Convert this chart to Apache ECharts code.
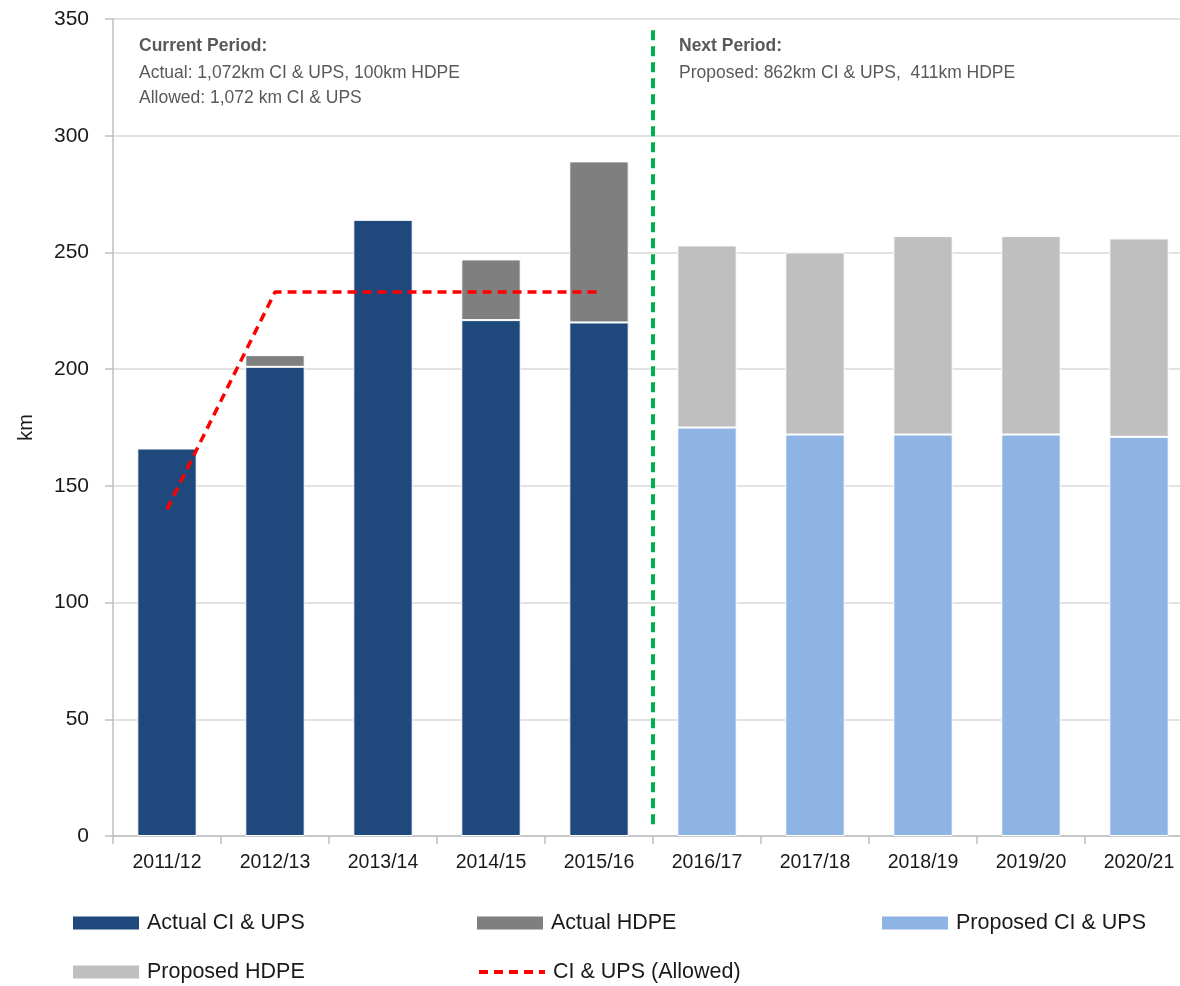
<!DOCTYPE html>
<html><head><meta charset="utf-8">
<script src="https://cdn.jsdelivr.net/npm/echarts@6/dist/echarts.min.js"></script>
<style>html,body{margin:0;padding:0;background:#fff;overflow:hidden}#c{width:1193px;height:986px}</style>
</head><body><div id="c"></div>
<script>
const categories = ['2011/12','2012/13','2013/14','2014/15','2015/16','2016/17','2017/18','2018/19','2019/20','2020/21'];
const actualCI   = [166, 201, 264, 221, 220, '-', '-', '-', '-', '-'];
const actualHDPE = [0, 5, 0, 26, 69, '-', '-', '-', '-', '-'];
const proposedCI   = ['-', '-', '-', '-', '-', 175, 172, 172, 172, 171];
const proposedHDPE = ['-', '-', '-', '-', '-', 78, 78, 85, 85, 85];
const allowedCI = [140, 233, 233, 233, 233, '-', '-', '-', '-', '-'];
const dividerX = 5;
const dividerY = [5, 346];
const yTicks = {min: 0, max: 350, interval: 50};
const noteCurrent = ['Current Period:', 'Actual: 1,072km CI & UPS, 100km HDPE', 'Allowed: 1,072 km CI & UPS'];
const noteNext = ['Next Period:', 'Proposed: 862km CI & UPS,  411km HDPE'];

const FONT = "'Liberation Sans Narrow', 'Liberation Sans', Arial, sans-serif";
const chart = echarts.init(document.getElementById('c'));
const legendText = {fontFamily: FONT, fontSize: 21.5, color: '#1a1a1a', padding: [0, 0, 0, 3]};
const barBorder = {borderColor: '#ffffff', borderWidth: 1};

function lg(name, left, top, extra) {
  return Object.assign({left: left, top: top, padding: 0, itemWidth: 66, itemHeight: 13, itemGap: 0,
    icon: 'rect', textStyle: legendText, itemStyle: {borderWidth: 0}, data: [name]}, extra || {});
}

chart.setOption({
  animation: false,
  textStyle: {fontFamily: FONT},
  grid: {left: 113, right: 0, top: 19, bottom: 150, containLabel: false, outerBoundsMode: 'none'},
  xAxis: [{
    type: 'category', data: categories,
    axisLine: {lineStyle: {color: '#bfbfbf', width: 1.5}},
    axisTick: {show: true, length: 8, lineStyle: {color: '#bfbfbf', width: 1.5}},
    axisLabel: {fontFamily: FONT, fontSize: 19.5, color: '#1a1a1a', margin: 17}
  }, {
    type: 'value', min: 0, max: 10, show: false
  }],
  yAxis: {
    type: 'value', min: yTicks.min, max: yTicks.max, interval: yTicks.interval,
    name: 'km', nameLocation: 'middle', nameGap: 77, nameRotate: 90,
    nameTextStyle: {fontFamily: FONT, fontSize: 20, color: '#1a1a1a'},
    axisLine: {show: true, lineStyle: {color: '#bfbfbf', width: 1.5}},
    axisTick: {show: true, length: 8, lineStyle: {color: '#bfbfbf', width: 1.5}},
    axisLabel: {fontFamily: FONT, fontSize: 21, color: '#1a1a1a', margin: 24},
    splitLine: {lineStyle: {color: '#d9d9d9', width: 1.5}}
  },
  legend: [
    lg('Actual CI & UPS', 73, 912),
    lg('Actual HDPE', 477, 912),
    lg('Proposed CI & UPS', 882, 912),
    lg('Proposed HDPE', 73, 961),
    lg('CI & UPS (Allowed)', 477, 961, {icon: undefined, itemStyle: {opacity: 0}, lineStyle: {width: 4}})
  ],
  graphic: [
    {type: 'text', left: 139, top: 37, style: {text: noteCurrent[0], fontFamily: FONT, fontSize: 17.5, fontWeight: 'bold', fill: '#595959'}},
    {type: 'text', left: 139, top: 61, style: {text: noteCurrent[1] + '\n' + noteCurrent[2], fontFamily: FONT, fontSize: 17.5, lineHeight: 25, fill: '#595959'}},
    {type: 'text', left: 679, top: 37, style: {text: noteNext[0], fontFamily: FONT, fontSize: 17.5, fontWeight: 'bold', fill: '#595959'}},
    {type: 'text', left: 679, top: 61, style: {text: noteNext[1], fontFamily: FONT, fontSize: 17.5, lineHeight: 25, fill: '#595959'}}
  ],
  series: [
    {name: 'Actual CI & UPS', type: 'bar', stack: 's', barWidth: '55%', data: actualCI,
     itemStyle: Object.assign({color: '#1f487c'}, barBorder)},
    {name: 'Actual HDPE', type: 'bar', stack: 's', data: actualHDPE,
     itemStyle: Object.assign({color: '#7f7f7f'}, barBorder)},
    {name: 'Proposed CI & UPS', type: 'bar', stack: 's', data: proposedCI,
     itemStyle: Object.assign({color: '#8eb4e3'}, barBorder)},
    {name: 'Proposed HDPE', type: 'bar', stack: 's', data: proposedHDPE,
     itemStyle: Object.assign({color: '#bfbfbf'}, barBorder)},
    {name: 'CI & UPS (Allowed)', type: 'line', data: allowedCI, symbol: 'none', z: 5,
     itemStyle: {color: '#ff0000'},
     lineStyle: {color: '#ff0000', width: 3.5, type: [9, 6]}},
    {name: 'divider', type: 'line', xAxisIndex: 1, symbol: 'none', z: 6,
     data: dividerY.map(v => [dividerX, v]),
     lineStyle: {color: '#00b050', width: 4, type: [10, 6]}}
  ]
});
</script></body></html>
